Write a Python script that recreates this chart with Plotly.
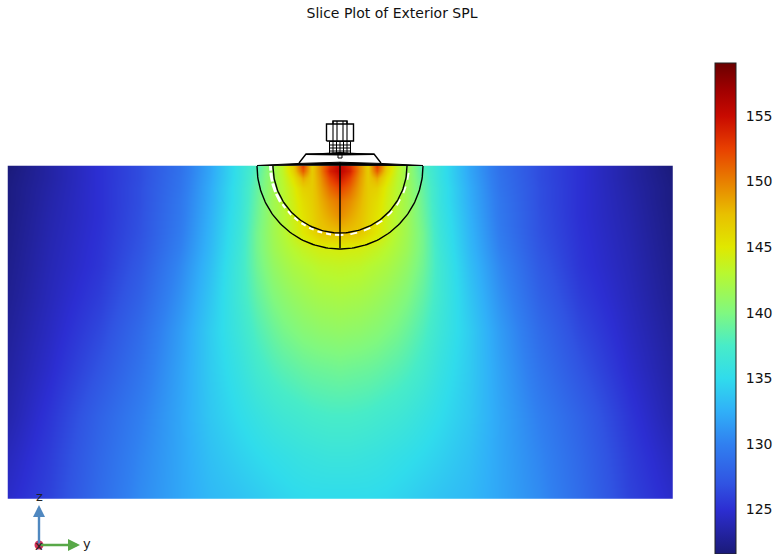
import numpy as np
import plotly.graph_objects as go

# Field sample positions (lateral offset from the axis, and depth below the top edge)
lateral = [0, 10, 20, 28, 37, 47, 57, 67, 83, 100, 130, 160, 200, 240, 290, 331.5, 332]
depth = [0, 0.5, 5, 12, 22, 35, 50, 67, 83, 100, 130, 165, 205, 250, 290, 331.5, 332]
# SPL in dB read from the slice, half section (the slice is symmetric about the axis)
spl_half = [
    [155.5,153.5,149.5,146.5,152.5,146.5,143.5,141.5,138.0,135.8,132.0,129.0,126.6,125.1,123.3,121.7,121.7],
    [155.5,153.5,149.5,146.5,152.5,146.5,143.5,141.5,138.0,135.8,132.0,129.0,126.6,125.1,123.3,121.7,121.7],
    [155.5,154.0,149.5,146.8,151.5,146.3,143.4,141.5,138.2,135.8,132.0,129.0,126.6,125.1,123.3,121.8,121.8],
    [154.5,152.5,149.0,146.8,148.5,145.3,143.2,141.5,138.5,135.8,132.1,129.1,126.6,125.1,123.3,121.9,121.9],
    [152.5,151.0,148.5,146.8,146.5,144.5,143.0,141.6,138.8,136.0,132.3,129.2,126.7,125.1,123.4,122.0,122.0],
    [150.5,149.5,148.0,146.6,145.7,144.2,142.9,141.7,139.0,136.0,132.4,129.4,126.7,125.1,123.5,122.0,122.0],
    [149.5,148.5,147.5,146.3,145.3,144.0,142.8,141.7,139.2,136.2,132.6,129.5,126.8,125.1,123.6,122.1,122.1],
    [147.5,147.3,147.0,146.0,145.0,143.8,142.7,141.7,139.5,136.4,132.8,129.7,126.9,125.2,123.7,122.2,122.2],
    [144.5,144.4,144.3,144.0,143.6,143.0,142.3,141.5,139.5,136.6,133.0,130.0,127.1,125.3,123.8,122.3,122.3],
    [143.5,143.4,143.3,143.0,142.7,142.3,141.7,141.0,139.3,136.8,133.3,130.4,127.4,125.4,123.9,122.4,122.4],
    [142.3,142.2,142.1,141.9,141.6,141.2,140.7,140.1,138.7,136.8,133.7,130.9,127.9,125.8,124.1,122.6,122.6],
    [141.0,140.9,140.8,140.6,140.4,140.0,139.6,139.0,137.9,136.4,134.1,131.5,128.6,126.4,124.4,122.9,122.9],
    [139.3,139.2,139.1,139.0,138.8,138.5,138.2,137.8,137.0,135.8,134.0,131.8,129.2,127.1,124.8,123.2,123.2],
    [137.5,137.5,137.4,137.3,137.1,136.9,136.7,136.4,135.8,135.1,133.8,132.0,129.9,128.0,125.4,123.6,123.6],
    [136.2,136.2,136.1,136.0,135.9,135.7,135.5,135.3,134.9,134.4,133.4,132.0,130.3,128.4,125.8,124.2,124.2],
    [135.0,135.0,135.0,135.0,134.9,134.8,134.6,134.4,134.0,133.6,133.0,132.0,130.6,128.7,126.1,124.7,124.7],
    [135.0,135.0,135.0,135.0,134.9,134.8,134.6,134.4,134.0,133.6,133.0,132.0,130.6,128.7,126.1,124.7,124.7],
]
z_min, z_max = 121.61, 159.04
color_db = [121.61, 123.0, 125.0, 127.0, 130.0, 132.5, 135.0, 137.5, 140.0, 143.0, 145.0, 147.5, 150.0, 152.5, 155.0, 157.0, 159.04]
color_hex = ["#1a1a78", "#22229c", "#2c2ed2", "#3054e2", "#3080f0", "#30b0f8", "#30dcec", "#48ecc8",
             "#80f880", "#b8f830", "#e0e800", "#e8c000", "#e88000", "#e84000", "#c80a00", "#a00000", "#6a0000"]
cbar_ticks = [125, 130, 135, 140, 145, 150, 155]

W, H = 774, 554
x_half = np.array(lateral, float)
x_all = np.concatenate([-x_half[:0:-1], x_half])
spl = np.array(spl_half)
z_all = np.hstack([spl[:, :0:-1], spl])
colorscale = [[(v - z_min) / (z_max - z_min), c] for v, c in zip(color_db, color_hex)]

fig = go.Figure()
fig.add_trace(go.Heatmap(
    x=x_all, y=-np.array(depth, float), z=z_all, zsmooth="best", zmin=z_min, zmax=z_max,
    colorscale=colorscale, hoverinfo="skip",
    colorbar=dict(x=715 / W, xanchor="left", y=1 - 63 / H, yanchor="top", lenmode="pixels", len=491,
                  thickness=21, thicknessmode="pixels", xpad=0, ypad=0, outlinecolor="#222222", outlinewidth=1,
                  tickmode="array", tickvals=cbar_ticks, ticks="outside", ticklen=7, tickwidth=0,
                  tickcolor="rgba(0,0,0,0)",
                  tickfont=dict(family="DejaVu Sans", size=14, color="#111111")),
))

def line(xs, ys, w=1.4, color="black", dash=None):
    fig.add_trace(go.Scatter(x=xs, y=ys, mode="lines", hoverinfo="skip", showlegend=False,
                             line=dict(color=color, width=w, dash=dash)))

def arc(r, a=0.0, b=np.pi):
    t = np.linspace(a, b, 120)
    return r * np.cos(t), -r * np.sin(t)

# white gaps between the inner shell and the exterior slice
xs, ys = arc(69.0, np.pi / 2, 2.6)
line(xs, ys, w=2.2, color="white", dash="5px 4px")
xs, ys = arc(69.5, 2.6, np.pi)
line(xs, ys, w=3, color="white", dash="9px 2px")
xs, ys = arc(69.0, 0.1, np.pi / 2)
line(xs, ys, w=1.8, color="white", dash="7px 7px")

# shell outlines
for r in (83, 67):
    xs, ys = arc(r)
    line(xs, ys)
line([0, 0], [-82, 4])

# baffle (lens shape)
fig.add_trace(go.Scatter(x=[-83, -40, 0, 40, 83, 40, 0, -40, -83], y=[0.5, 2.6, 3.8, 2.6, 0.5, 0.8, 1, 0.8, 0.5],
                         mode="lines", fill="toself", fillcolor="black", hoverinfo="skip", showlegend=False,
                         line=dict(color="black", width=1)))
# trapezoid housing
line([-41, -34, 34, 41], [3, 12, 12, 3])
fig.add_trace(go.Scatter(x=[-34, 0, 34, 0, -34], y=[11.5, 13.5, 11.5, 11, 11.5], mode="lines", fill="toself",
                         fillcolor="black", hoverinfo="skip", showlegend=False, line=dict(color="black", width=1)))
# threaded section
for gx in np.arange(-10.5, 10.6, 3.5):
    line([gx, gx], [11.5, 24.5], w=1)
for gz in (11.5, 15, 18, 21, 24.5):
    line([-10.5, 10.5], [gz, gz], w=1)
line([-2, -2, 2, 2], [11, 8, 8, 11], w=1)
# nut and cap
line([-13.5, 13.5, 13.5, -13.5, -13.5], [25, 25, 42, 42, 25])
line([-7, -7, 7, 7], [42, 45, 45, 42])
for vx in (-7, -3, 3, 7):
    line([vx, vx], [25, 45], w=1.1)

# triad
ox, oz = -301, -379
fig.add_annotation(x=ox, y=-339, ax=ox, ay=oz, xref="x", yref="y", axref="x", ayref="y", text="", showarrow=True,
                   arrowhead=2, arrowsize=1, arrowwidth=2.4, arrowcolor="#5088c0")
fig.add_annotation(x=-260, y=oz, ax=ox, ay=oz, xref="x", yref="y", axref="x", ayref="y", text="", showarrow=True,
                   arrowhead=2, arrowsize=1, arrowwidth=2.4, arrowcolor="#58a848")
fig.add_trace(go.Scatter(x=[ox], y=[oz], mode="markers", hoverinfo="skip", showlegend=False,
                         marker=dict(size=9, color="#d0305a")))
for tx, tz, s in ((ox, -330, "z"), (-253, -377, "y"), (ox, -379.5, "x")):
    fig.add_annotation(x=tx, y=tz, text=s, showarrow=False, font=dict(family="DejaVu Sans", size=13, color="#222222"))

# colourbar tick marks on both inner edges
for v in cbar_ticks:
    py = 1 - (63 + (z_max - v) / (z_max - z_min) * 491) / H
    for a, b in ((715, 719), (732, 736)):
        fig.add_shape(type="line", xref="paper", yref="paper", x0=a / W, x1=b / W, y0=py, y1=py,
                      line=dict(color="#222222", width=1))

fig.update_layout(
    width=W, height=H, margin=dict(l=0, r=0, t=0, b=0, autoexpand=False), showlegend=False,
    paper_bgcolor="white", plot_bgcolor="white",
    title=dict(text="Slice Plot of Exterior SPL", x=392 / W, xanchor="center", y=1 - 13 / H, yanchor="middle",
               font=dict(family="DejaVu Sans", size=14, color="#111111")),
    xaxis=dict(range=[-340, 434], visible=False, fixedrange=True),
    yaxis=dict(range=[-388, 166], visible=False, fixedrange=True),
)
fig.write_html("out.html", config={"displayModeBar": False},
               post_script="document.body.style.margin='0';document.documentElement.style.overflow='hidden';")
